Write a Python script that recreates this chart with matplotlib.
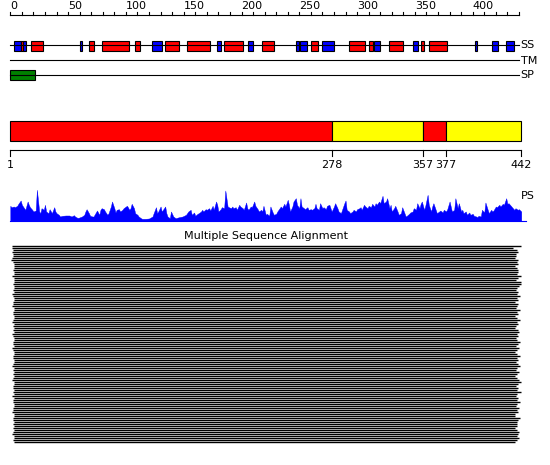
import numpy as np
import matplotlib
matplotlib.use("Agg")
import matplotlib.pyplot as plt

# sequence length and overview layout (residue numbering)
seq_len = 442
axis_end = 440

# secondary structure: H = helix (red), E = strand (blue)
ss_start = [3, 9, 11, 18, 60, 68, 79, 108, 123, 134, 153, 179, 185, 206, 218,
            247, 251, 260, 270, 293, 310, 315, 328, 348, 355, 362, 402, 417, 429]
ss_end = [9, 11, 14, 28, 62, 72, 103, 112, 131, 146, 173, 182, 201, 210, 228,
          250, 257, 266, 280, 307, 314, 320, 340, 353, 358, 378, 404, 422, 436]
ss_kind = ['E', 'H', 'E', 'H', 'E', 'H', 'H', 'H', 'E', 'H', 'H', 'E', 'H', 'E', 'H',
           'E', 'E', 'H', 'E', 'H', 'H', 'E', 'H', 'E', 'H', 'H', 'E', 'E', 'E']

# signal peptide
sp_start, sp_end = 0, 21

# domain boundaries and colours
dom_bounds = [1, 278, 357, 377, 442]
dom_colors = ['red', 'yellow', 'red', 'yellow']

# profile score (PS)
ps_pos = [0, 1, 3, 4, 6, 7, 9, 10, 12, 13, 15, 16, 17, 19, 20, 22, 23, 25, 26, 27,
          29, 30, 31, 33, 34, 36, 38, 39, 40, 42, 43, 45, 48, 51, 53, 55, 56, 58, 59, 62,
          64, 65, 66, 68, 69, 71, 72, 74, 75, 77, 78, 79, 81, 82, 84, 85, 87, 88, 90, 91,
          92, 94, 95, 97, 98, 100, 101, 103, 104, 105, 107, 108, 110, 111, 113, 114, 117, 120, 123, 124,
          126, 127, 128, 130, 131, 133, 134, 135, 136, 138, 139, 141, 143, 146, 149, 152, 154, 156, 157, 159,
          160, 162, 163, 165, 166, 167, 169, 170, 172, 173, 175, 176, 178, 179, 180, 182, 183, 185, 186, 188,
          189, 191, 192, 193, 195, 196, 198, 199, 201, 202, 204, 205, 206, 208, 209, 211, 212, 214, 215, 217,
          218, 219,
          221, 222, 224, 225, 227, 228, 230, 231, 232, 234, 235, 237, 238, 240, 241, 242, 244, 245, 247, 248,
          250, 251, 252, 254, 255, 257, 258, 260, 261, 263, 264, 265, 267, 268, 270, 271, 273, 274, 276, 277,
          278, 280, 281, 283, 284, 286, 287, 289, 290, 291, 293, 294, 296, 297, 299, 300, 302, 303, 304, 306,
          307, 309, 310, 312, 313, 315, 316, 317, 319, 320, 322, 323, 325, 326, 328, 329, 330, 332, 333, 335,
          336, 338, 339, 341, 342, 343, 345, 346, 348, 349, 351, 352, 354, 355, 356, 358, 359, 361, 362, 364,
          365, 366, 368, 369, 371, 372, 374, 375, 377, 378, 380, 381, 382, 384, 385, 387, 388, 390, 391, 392,
          394, 395, 397, 398, 400, 401, 403, 404, 405, 407, 408, 410, 411, 413, 414, 416, 417, 418, 420, 421,
          423, 424, 426, 427, 429, 430, 431, 433, 434, 436, 437, 439, 440, 442]
ps_val = [14.7, 13.3, 14, 13.3, 14.7, 16.7, 20, 15.7, 12.3, 10.7, 19, 15.7, 13.3, 10.7, 9, 10, 30.7, 9, 7.3, 12.3,
          10.7, 15.7, 9, 7.3, 11.3, 7.3, 13.3, 9, 7.3, 5.7, 4, 4.7, 5, 5, 4, 5.3, 4, 2.7, 2.7, 4,
          5.7, 9, 11.3, 7.3, 4.7, 4, 4, 8, 10, 5.7, 10.7, 12.3, 11.3, 9, 5.7, 7.3, 14, 19, 12.3, 8,
          10.7, 11.3, 9, 10.7, 12.3, 14, 14.7, 10.7, 12.3, 16.7, 12.3, 7.3, 5.7, 4, 2.3, 1.7, 1.7, 2, 4, 7.3,
          13.3, 7.3, 9, 14, 9, 12.3, 14, 7.3, 4, 2.3, 9, 4, 2.3, 3.3, 4, 5.7, 9, 10.7, 5.7, 8,
          4.7, 6.7, 7.3, 9, 10.7, 9, 11.3, 10.7, 12.3, 10, 14.7, 10.7, 19, 15.7, 9, 11.3, 13.3, 12.3, 30, 14,
          13.3, 12.3, 14, 12.3, 13.3, 10.7, 15.7, 14, 12.3, 10.7, 18, 12.3, 10.7, 14, 13.3, 19, 14.7, 11.3, 9, 10.7,
          9, 14.7,
          5.7, 6.7, 4.7, 14, 8, 5.7, 6.7, 9, 10.7, 14, 12.3, 16.7, 14, 20.7, 15.7, 9, 14, 19, 22.3, 15.7,
          12.3, 22.3, 14, 12.3, 11.3, 13.3, 10.7, 11.3, 10.7, 12.3, 16.7, 12.3, 10.7, 17.3, 12.3, 13.3, 11.3, 14.7, 15.7, 12.3,
          9, 14, 17.3, 12.3, 9, 7.3, 10.7, 17.3, 20, 10.7, 9, 7.3, 9, 10.7, 9, 11.3, 12.3, 13.3, 10.7, 15.7,
          14, 12.3, 14.7, 13.3, 16.7, 14, 17.3, 15.7, 19, 17.3, 24.7, 17.3, 19, 22.3, 12.3, 15.7, 9, 12.3, 14.7, 9,
          5.7, 7.3, 13.3, 7.3, 4, 4.7, 6.7, 8, 9, 12.3, 10.7, 17.3, 12.3, 16.7, 19, 10.7, 14.7, 25.7, 15.7, 9,
          14, 17.3, 10.7, 7.3, 9, 10, 8, 10.7, 9, 11.3, 19, 14, 9, 10.7, 22.3, 12.3, 17.3, 9, 10.7, 7.3,
          9, 5.7, 8, 5.7, 6.7, 4.7, 4, 3.3, 4.7, 4, 10.7, 8, 18, 10.7, 7.3, 10.7, 9, 10, 14, 13.3,
          15.7, 14, 16.7, 15.7, 22.3, 16.7, 17.3, 14.7, 13.3, 10.7, 12.3, 10.7, 11.3, 9]

# multiple sequence alignment: first / last aligned residue of each hit
msa_start = [1.5, 1.8, 2.2, 1.8, 2.2, 2.2, 1.5, 0.8, 2.2, 2.8, 2.8, 2.8, 2.2, 2.8, 2.8, 1.8, 2.8, 3.2, 3.2, 2.5,
             2.8, 3.2, 2.2, 2.8, 1.5, 2.5, 2.8, 3.2, 2.2, 2.5, 1.8, 2.8, 3.2, 2.5, 2.2, 2.8, 3.2, 2.5, 1.2, 2.8,
             2.2, 3.2, 2.5, 2.8, 1.8, 2.5, 3.2, 2.8, 2.2, 2.5, 2.8, 1.5, 2.2, 3.2, 2.8, 2.5, 2.2, 3.2, 2.8, 2.5,
             1.8, 2.8, 2.5, 3.2, 2.2, 2.8, 2.5, 1.5, 2.8, 3.2, 2.5, 2.2, 2.8, 2.5, 3.2, 1.8, 2.8, 2.5, 2.2, 3.2,
             2.8, 2.5, 2.2, 1.8, 2.8, 3.2, 2.5, 2.2, 2.8, 2.5, 3.2, 2.2, 2.8, 2.5, 1.8, 2.8, 3.2, 2.5, 2.8]
msa_end = [441.5, 435.1, 438.6, 438.9, 437.4, 437.2, 436.9, 439.4, 438.6, 438.9, 436.6, 438.6, 438.9, 438.9, 438.6,
           441.5, 439.4, 437.4, 441.5, 441.5, 440.3, 438.6, 437.7, 439.0, 438.2, 440.5, 437.9, 438.8, 436.4, 439.6,
           438.1, 437.5, 440.9, 438.4, 439.2, 437.0, 438.7, 441.0, 438.3, 439.5, 437.8, 436.8, 438.9, 440.2, 438.0,
           439.3, 437.6, 438.5, 441.2, 438.8, 437.3, 439.7, 438.4, 436.9, 438.6, 440.6, 438.2, 439.1, 437.4, 438.9,
           441.3, 438.5, 437.2, 439.8, 438.7, 436.7, 438.4, 440.4, 441.6, 438.8, 437.7, 439.2, 438.3, 441.6, 438.6,
           437.1, 439.6, 438.4, 441.0, 438.1, 437.3, 440.1, 438.6, 439.4, 436.5, 436.2, 440.6, 438.8, 438.7, 438.7,
           438.5, 437.0, 438.4, 440.0, 438.8, 438.2, 439.9, 438.0, 436.2]

# pixel-like vertical layout
fig = plt.figure(figsize=(5.5, 4.65), dpi=100)
ax = fig.add_axes([0, 0, 1, 1])
x0, scale = 10.3, 1.156
ax.set_xlim(-x0 / scale, (550 - x0) / scale)
ax.set_ylim(465, 0)
ax.axis('off')
fs = 8

# ruler
ax.plot([0, axis_end], [15, 15], color='black', lw=0.8)
for t in range(0, axis_end + 1, 10):
    ax.plot([t, t], [12, 15], color='black', lw=0.8)
for t in range(0, axis_end + 1, 50):
    ax.text(t, 11, str(t), ha='left', va='bottom', fontsize=fs)

# tracks
for y, lab in [(45.5, 'SS'), (60.5, 'TM'), (75.5, 'SP')]:
    ax.plot([0, axis_end], [y, y], color='black', lw=0.8)
    ax.text(axis_end + 1.5, y, lab, ha='left', va='center', fontsize=fs)

for s, e, k in zip(ss_start, ss_end, ss_kind):
    ax.bar(s, 10, width=e - s, bottom=40.7, align='edge',
           color='red' if k == 'H' else 'blue', edgecolor='black', lw=0.8)

ax.bar(sp_start, 10, width=sp_end - sp_start, bottom=70.5, align='edge',
       color='green', edgecolor='black', lw=0.8)

# domains
dom_x = [b - 1 if i == 0 else b for i, b in enumerate(dom_bounds)]
for i in range(len(dom_colors)):
    ax.bar(dom_x[i], 20, width=dom_x[i + 1] - dom_x[i], bottom=120.5, align='edge',
           color=dom_colors[i], edgecolor='black', lw=0.8)
ax.plot([dom_x[0], dom_x[-1]], [150.5, 150.5], color='black', lw=0.8)
for xb, b in zip(dom_x, dom_bounds):
    ax.plot([xb, xb], [150.5, 156], color='black', lw=0.8)
    ax.text(xb, 159.5, str(b), ha='center', va='top', fontsize=fs)

# profile
base = 220.5
ps = np.array(ps_val)
ax.fill_between(ps_pos, base - ps, base, color='blue', lw=0.3, edgecolor='blue')
ax.plot([0, seq_len + 4], [base, base], color='blue', lw=0.8)
ax.text(seq_len, 196, 'PS', ha='left', va='center', fontsize=fs)

# alignment
ax.text((dom_x[0] + dom_x[-1]) / 2, 236, 'Multiple Sequence Alignment',
        ha='center', va='center', fontsize=fs)
for i, (s, e) in enumerate(zip(msa_start, msa_end)):
    y = 245.5 + 2 * i
    ax.plot([s, e], [y, y], color='black', lw=1.0, solid_capstyle='butt')

fig.savefig('out.png', dpi=100)
